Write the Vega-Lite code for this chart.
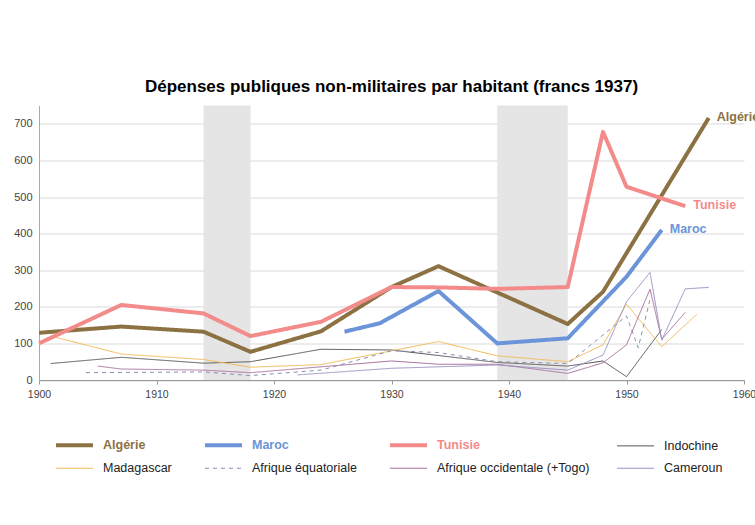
{
  "$schema": "https://vega.github.io/schema/vega-lite/v6.json",
  "width": 705,
  "height": 274.5,
  "autosize": {"type": "none"},
  "padding": {"left": 39, "top": 105.5, "right": 11, "bottom": 145},
  "background": "white",
  "config": {"font": "Liberation Sans", "view": {"stroke": null}},
  "title": {"text": "Dépenses publiques non-militaires par habitant (francs 1937)", "font": "Liberation Sans", "fontSize": 17, "fontWeight": "bold", "color": "#000000", "anchor": "middle", "offset": 10},
  "datasets": {
    "guerres": [
      {"debut": 1914, "fin": 1918, "bas": 0, "haut": 750},
      {"debut": 1939, "fin": 1945, "bas": 0, "haut": 750}
    ],
    "series": [
      {"pays": "Indochine", "annee": 1901, "valeur": 45},
      {"pays": "Indochine", "annee": 1907, "valeur": 62},
      {"pays": "Indochine", "annee": 1914, "valeur": 46},
      {"pays": "Indochine", "annee": 1918, "valeur": 50},
      {"pays": "Indochine", "annee": 1924, "valeur": 84},
      {"pays": "Indochine", "annee": 1930, "valeur": 82},
      {"pays": "Indochine", "annee": 1939, "valeur": 48},
      {"pays": "Indochine", "annee": 1945, "valeur": 38},
      {"pays": "Indochine", "annee": 1948, "valeur": 52},
      {"pays": "Indochine", "annee": 1950, "valeur": 9},
      {"pays": "Indochine", "annee": 1953, "valeur": 138},
      {"pays": "Madagascar", "annee": 1901, "valeur": 120},
      {"pays": "Madagascar", "annee": 1907, "valeur": 71},
      {"pays": "Madagascar", "annee": 1914, "valeur": 56},
      {"pays": "Madagascar", "annee": 1918, "valeur": 35},
      {"pays": "Madagascar", "annee": 1924, "valeur": 42},
      {"pays": "Madagascar", "annee": 1934, "valeur": 105},
      {"pays": "Madagascar", "annee": 1939, "valeur": 66},
      {"pays": "Madagascar", "annee": 1945, "valeur": 50},
      {"pays": "Madagascar", "annee": 1948, "valeur": 96},
      {"pays": "Madagascar", "annee": 1950, "valeur": 207},
      {"pays": "Madagascar", "annee": 1953, "valeur": 91},
      {"pays": "Madagascar", "annee": 1956, "valeur": 180},
      {"pays": "Afrique équatoriale", "annee": 1904, "valeur": 20},
      {"pays": "Afrique équatoriale", "annee": 1914, "valeur": 22},
      {"pays": "Afrique équatoriale", "annee": 1918, "valeur": 12},
      {"pays": "Afrique équatoriale", "annee": 1924, "valeur": 27},
      {"pays": "Afrique équatoriale", "annee": 1930, "valeur": 80},
      {"pays": "Afrique équatoriale", "annee": 1934, "valeur": 75},
      {"pays": "Afrique équatoriale", "annee": 1939, "valeur": 50},
      {"pays": "Afrique équatoriale", "annee": 1945, "valeur": 45},
      {"pays": "Afrique équatoriale", "annee": 1950, "valeur": 175},
      {"pays": "Afrique équatoriale", "annee": 1951, "valeur": 88},
      {"pays": "Afrique équatoriale", "annee": 1952, "valeur": 220},
      {"pays": "Afrique occidentale (+Togo)", "annee": 1905, "valeur": 38},
      {"pays": "Afrique occidentale (+Togo)", "annee": 1907, "valeur": 30},
      {"pays": "Afrique occidentale (+Togo)", "annee": 1914, "valeur": 27},
      {"pays": "Afrique occidentale (+Togo)", "annee": 1918, "valeur": 20},
      {"pays": "Afrique occidentale (+Togo)", "annee": 1930, "valeur": 52},
      {"pays": "Afrique occidentale (+Togo)", "annee": 1934, "valeur": 43},
      {"pays": "Afrique occidentale (+Togo)", "annee": 1939, "valeur": 43},
      {"pays": "Afrique occidentale (+Togo)", "annee": 1945, "valeur": 18},
      {"pays": "Afrique occidentale (+Togo)", "annee": 1948, "valeur": 47},
      {"pays": "Afrique occidentale (+Togo)", "annee": 1950, "valeur": 96},
      {"pays": "Afrique occidentale (+Togo)", "annee": 1952, "valeur": 248},
      {"pays": "Afrique occidentale (+Togo)", "annee": 1953, "valeur": 111},
      {"pays": "Afrique occidentale (+Togo)", "annee": 1955, "valeur": 185},
      {"pays": "Cameroun", "annee": 1922, "valeur": 14},
      {"pays": "Cameroun", "annee": 1930, "valeur": 32},
      {"pays": "Cameroun", "annee": 1939, "valeur": 41},
      {"pays": "Cameroun", "annee": 1945, "valeur": 27},
      {"pays": "Cameroun", "annee": 1948, "valeur": 68},
      {"pays": "Cameroun", "annee": 1950, "valeur": 214},
      {"pays": "Cameroun", "annee": 1952, "valeur": 294},
      {"pays": "Cameroun", "annee": 1953, "valeur": 109},
      {"pays": "Cameroun", "annee": 1955, "valeur": 249},
      {"pays": "Cameroun", "annee": 1957, "valeur": 253},
      {"pays": "Algérie", "annee": 1900, "valeur": 129},
      {"pays": "Algérie", "annee": 1907, "valeur": 146},
      {"pays": "Algérie", "annee": 1914, "valeur": 132},
      {"pays": "Algérie", "annee": 1918, "valeur": 77},
      {"pays": "Algérie", "annee": 1924, "valeur": 133},
      {"pays": "Algérie", "annee": 1930, "valeur": 254},
      {"pays": "Algérie", "annee": 1934, "valeur": 311},
      {"pays": "Algérie", "annee": 1945, "valeur": 153},
      {"pays": "Algérie", "annee": 1948, "valeur": 241},
      {"pays": "Algérie", "annee": 1957, "valeur": 716},
      {"pays": "Maroc", "annee": 1926, "valeur": 132},
      {"pays": "Maroc", "annee": 1929, "valeur": 155},
      {"pays": "Maroc", "annee": 1934, "valeur": 243},
      {"pays": "Maroc", "annee": 1939, "valeur": 100},
      {"pays": "Maroc", "annee": 1945, "valeur": 114},
      {"pays": "Maroc", "annee": 1950, "valeur": 282},
      {"pays": "Maroc", "annee": 1953, "valeur": 410},
      {"pays": "Tunisie", "annee": 1900, "valeur": 100},
      {"pays": "Tunisie", "annee": 1907, "valeur": 205},
      {"pays": "Tunisie", "annee": 1914, "valeur": 182},
      {"pays": "Tunisie", "annee": 1918, "valeur": 120},
      {"pays": "Tunisie", "annee": 1924, "valeur": 159},
      {"pays": "Tunisie", "annee": 1930, "valeur": 254},
      {"pays": "Tunisie", "annee": 1934, "valeur": 253},
      {"pays": "Tunisie", "annee": 1939, "valeur": 249},
      {"pays": "Tunisie", "annee": 1945, "valeur": 254},
      {"pays": "Tunisie", "annee": 1948, "valeur": 678},
      {"pays": "Tunisie", "annee": 1950, "valeur": 528},
      {"pays": "Tunisie", "annee": 1955, "valeur": 475}
    ],
    "etiquettes": [
      {"pays": "Algérie", "annee": 1957, "valeur": 716},
      {"pays": "Tunisie", "annee": 1955, "valeur": 475},
      {"pays": "Maroc", "annee": 1953, "valeur": 410}
    ]
  },
  "layer": [
    {
      "data": {"name": "guerres"},
      "mark": {"type": "rect", "color": "#e5e5e5"},
      "encoding": {
        "x": {"field": "debut", "type": "quantitative", "scale": {"domain": [1900, 1960], "nice": false, "zero": false},
          "axis": {"values": [1900, 1910, 1920, 1930, 1940, 1950, 1960], "tickCount": 10, "format": "d", "grid": false, "title": null, "labelFontSize": 10.5, "labelColor": "#444444", "labelFont": "Liberation Sans", "tickColor": "#999999", "tickSize": 4, "domainColor": "#999999", "labelPadding": 5, "labelFlush": false}},
        "x2": {"field": "fin"},
        "y": {"field": "bas", "type": "quantitative", "scale": {"domain": [0, 750], "nice": false},
          "axis": {"values": [0, 100, 200, 300, 400, 500, 600, 700], "tickCount": 10, "title": null, "grid": true, "gridColor": "#dadada", "ticks": false, "labelPadding": 7, "labelFontSize": 11, "labelColor": "#444444", "labelFont": "Liberation Sans", "domainColor": "#aaaaaa", "labelOverlap": false}},
        "y2": {"field": "haut"}
      }
    },
    {
      "data": {"name": "series"},
      "mark": {"type": "line", "strokeJoin": "round"},
      "encoding": {
        "x": {"field": "annee", "type": "quantitative",
          "axis": {"values": [1900, 1910, 1920, 1930, 1940, 1950, 1960], "tickCount": 10, "format": "d", "grid": false, "title": null, "labelFontSize": 10.5, "labelColor": "#444444", "labelFont": "Liberation Sans", "tickColor": "#999999", "tickSize": 4, "domainColor": "#999999", "labelPadding": 5, "labelFlush": false}},
        "y": {"field": "valeur", "type": "quantitative",
          "axis": {"values": [0, 100, 200, 300, 400, 500, 600, 700], "tickCount": 10, "title": null, "grid": true, "gridColor": "#dadada", "ticks": false, "labelPadding": 7, "labelFontSize": 11, "labelColor": "#444444", "labelFont": "Liberation Sans", "domainColor": "#aaaaaa", "labelOverlap": false}},
        "color": {"field": "pays", "type": "nominal",
          "scale": {"domain": ["Algérie", "Maroc", "Tunisie", "Indochine", "Madagascar", "Afrique équatoriale", "Afrique occidentale (+Togo)", "Cameroun"],
                    "range": ["#8c7243", "#6b95d8", "#f38b8b", "#555555", "#f3b954", "#8a90b0", "#a8709e", "#9a92c0"]},
          "legend": {"title": null, "orient": "none", "legendX": 17, "legendY": 333, "direction": "horizontal", "columns": 4, "gridAlign": "each", "columnPadding": 25, "rowPadding": 8.5, "padding": 0, "symbolType": "stroke", "symbolSize": 1369, "symbolOffset": 12.25, "labelFontSize": 12.5, "labelFont": "Liberation Sans", "labelOffset": 22.25, "labelLimit": 300,
            "symbolStrokeWidth": {"expr": "indexof(['Algérie','Maroc','Tunisie'], datum.value) >= 0 ? 4 : 1"},
            "symbolDash": {"expr": "datum.value === 'Afrique équatoriale' ? [4, 4] : [1, 0]"},
            "labelColor": {"expr": "datum.value === 'Algérie' ? '#8c7243' : datum.value === 'Maroc' ? '#6b95d8' : datum.value === 'Tunisie' ? '#f38b8b' : '#222222'"},
            "labelFontWeight": {"expr": "indexof(['Algérie','Maroc','Tunisie'], datum.value) >= 0 ? 'bold' : 'normal'"}}},
        "strokeWidth": {"condition": {"test": "indexof(['Algérie','Maroc','Tunisie'], datum.pays) >= 0", "value": 4}, "value": 1},
        "strokeDash": {"condition": {"test": "datum.pays === 'Afrique équatoriale'", "value": [4, 4]}, "value": [1, 0]}
      }
    },
    {
      "data": {"name": "etiquettes"},
      "mark": {"type": "text", "align": "left", "baseline": "middle", "dx": 8, "dy": -1, "fontWeight": "bold", "fontSize": 12.5, "font": "Liberation Sans"},
      "encoding": {
        "x": {"field": "annee", "type": "quantitative"},
        "y": {"field": "valeur", "type": "quantitative"},
        "text": {"field": "pays"},
        "color": {"field": "pays", "type": "nominal", "legend": null}
      }
    }
  ]
}
